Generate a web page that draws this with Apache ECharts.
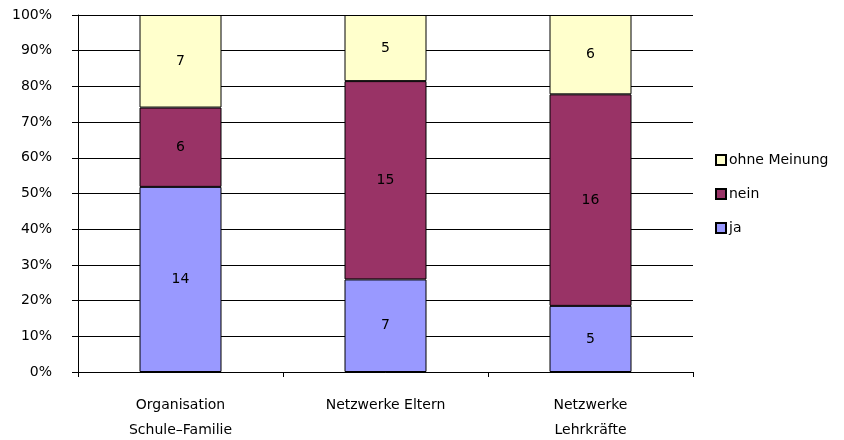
<!DOCTYPE html>
<html>
<head>
<meta charset="utf-8">
<script src="https://cdn.jsdelivr.net/npm/echarts@6/dist/echarts.min.js"></script>
<style>
  html, body { margin: 0; padding: 0; background: #fff; }
  #chart { width: 844px; height: 440px; }
</style>
</head>
<body>
<div id="chart"></div>
<script>
// Survey answers per topic (counts of respondents)
const categories = ['Organisation\nSchule–Familie', 'Netzwerke Eltern', 'Netzwerke\nLehrkräfte'];
const ja = [14, 7, 5];
const nein = [6, 15, 16];
const ohneMeinung = [7, 5, 6];
const yTicks = [0, 10, 20, 30, 40, 50, 60, 70, 80, 90, 100];

const totals = categories.map((_, i) => ja[i] + nein[i] + ohneMeinung[i]);
const share = (arr) => arr.map((v, i) => ({ value: v / totals[i] * 100, count: v }));

const FONT = 'DejaVu Sans';
const textStyle = { fontFamily: FONT, fontSize: 14, color: '#000' };

function bar(name, arr, color) {
  return {
    name: name,
    type: 'bar',
    stack: 'all',
    barWidth: '40%',
    data: share(arr),
    itemStyle: { color: color, borderColor: '#000', borderWidth: 1 },
    label: {
      show: true,
      position: 'inside',
      formatter: (p) => String(p.data.count),
      fontFamily: FONT, fontSize: 14, color: '#000'
    },
    emphasis: { disabled: true },
    animation: false
  };
}

const chart = echarts.init(document.getElementById('chart'), null, { renderer: 'canvas' });
chart.setOption({
  animation: false,
  grid: { left: 78, right: 151, top: 15, bottom: 68, containLabel: false, outerBoundsMode: 'none' },
  legend: {
    orient: 'vertical',
    left: 715,
    top: 153,
    padding: 0,
    itemWidth: 10,
    itemHeight: 10,
    itemGap: 20,
    data: ['ohne Meinung', 'nein', 'ja'],
    textStyle: Object.assign({}, textStyle, { padding: [0, 0, 0, -2] }),
    icon: 'rect',
    selectedMode: false
  },
  xAxis: {
    type: 'category',
    data: categories,
    axisLine: { lineStyle: { color: '#000', width: 1 } },
    axisTick: { show: true, alignWithLabel: false, length: 5, lineStyle: { color: '#000' } },
    axisLabel: Object.assign({}, textStyle, { margin: 21, lineHeight: 25, interval: 0 })
  },
  yAxis: {
    type: 'value',
    min: yTicks[0],
    max: yTicks[yTicks.length - 1],
    interval: 10,
    axisLine: { show: true, lineStyle: { color: '#000', width: 1 } },
    axisTick: { show: true, length: 6, lineStyle: { color: '#000' } },
    splitLine: { show: true, lineStyle: { color: '#000', width: 1 } },
    axisLabel: Object.assign({}, textStyle, { margin: 26, formatter: (v) => v + '%' })
  },
  series: [
    bar('ja', ja, '#9999FF'),
    bar('nein', nein, '#993366'),
    bar('ohne Meinung', ohneMeinung, '#FFFFCC')
  ]
});
</script>
</body>
</html>
